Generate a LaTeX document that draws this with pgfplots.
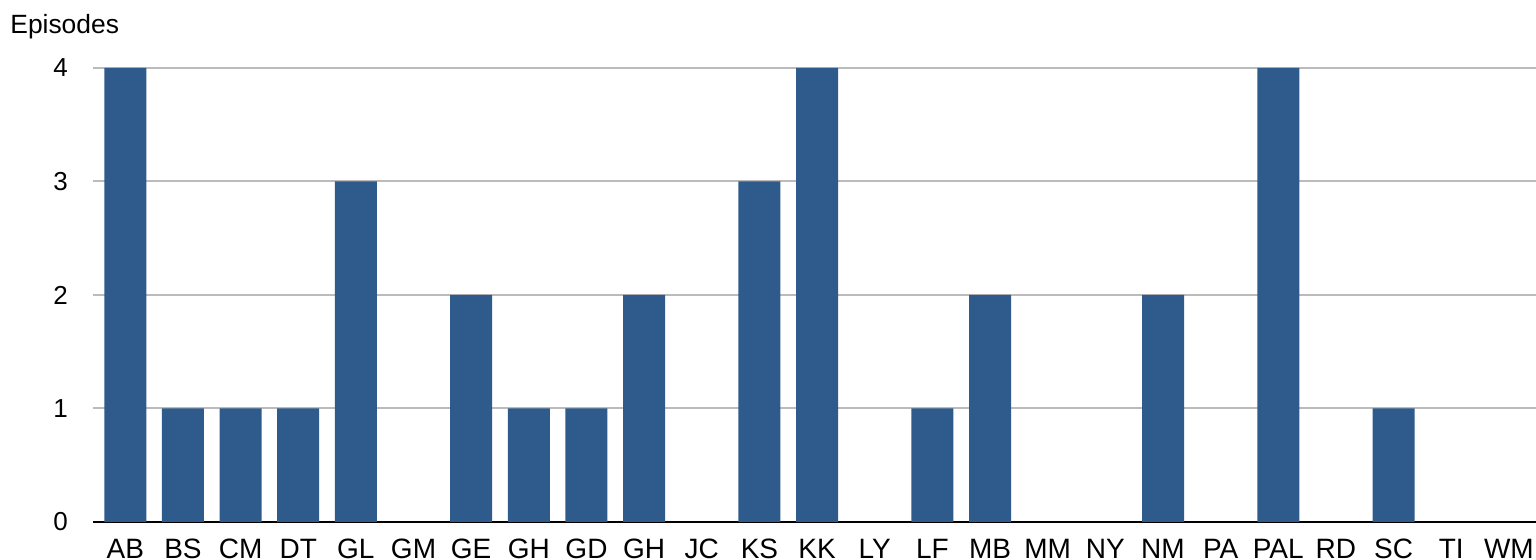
\documentclass[border=0pt]{standalone}
\usepackage{fontspec}
\setmainfont{Liberation Sans}
\usepackage{pgfplots}
\pgfplotsset{compat=1.18}
\definecolor{barblue}{HTML}{2E5A8C}
\definecolor{gridgray}{HTML}{BBBBBB}
\begin{document}
\begin{tikzpicture}
\begin{axis}[
  scale only axis,
  width=721.5pt, height=227pt,
  xmin=-0.56, xmax=24.47, ymin=0, ymax=4,
  ybar, bar width=21pt, bar shift=0pt,
  xtick={0,...,24},
  xticklabels={AB,BS,CM,DT,GL,GM,GE,GH,GD,GH,JC,KS,KK,LY,LF,MB,MM,NY,NM,PA,PAL,RD,SC,TI,WM},
  ytick={0,1,2,3,4},
  major tick length=0pt,
  axis x line*=bottom,
  axis y line*=left,
  x axis line style={black, line width=1pt, -},
  y axis line style={draw=none},
  ymajorgrids,
  grid style={gridgray, line width=1pt},
  xticklabel style={font=\fontsize{14}{15}\selectfont, yshift=-5pt},
  yticklabel style={font=\fontsize{13}{14}\selectfont, xshift=-9pt},
  /pgf/number format/assume math mode=true,
  clip=false,
]
\addplot[fill=barblue, draw=none] coordinates {
  (0,4) (1,1) (2,1) (3,1) (4,3) (6,2) (7,1) (8,1) (9,2)
  (11,3) (12,4) (14,1) (15,2) (18,2) (20,4) (22,1)
};
\coordinate (O) at (rel axis cs:0,0);
\end{axis}
\node[anchor=base west, font=\fontsize{13.2}{14}\selectfont, inner sep=0pt] at ([shift={(-41.5pt,244pt)}]O) {Episodes};
\pgfresetboundingbox
\path[use as bounding box] ([shift={(-46.5pt,-19pt)}]O) rectangle ++(768pt,280pt);
\end{tikzpicture}
\end{document}
